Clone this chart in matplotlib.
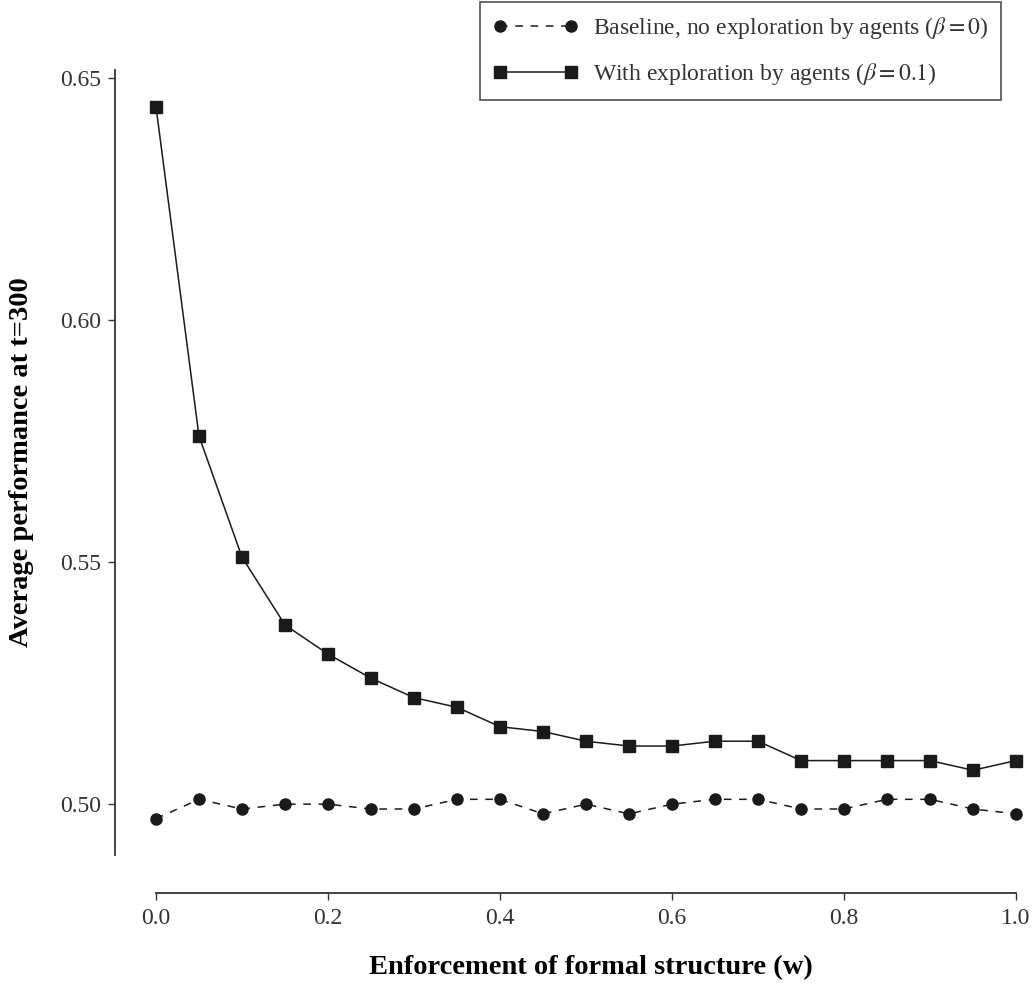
import matplotlib
matplotlib.use("Agg")
import matplotlib.pyplot as plt

plt.rcParams['font.family'] = ['Liberation Serif', 'DejaVu Serif']
plt.rcParams['mathtext.fontset'] = 'stix'

# enforcement levels w
w = [0.0, 0.05, 0.1, 0.15, 0.2, 0.25, 0.3, 0.35, 0.4, 0.45, 0.5,
     0.55, 0.6, 0.65, 0.7, 0.75, 0.8, 0.85, 0.9, 0.95, 1.0]

# average performance at t=300
baseline = [0.497, 0.501, 0.499, 0.500, 0.500, 0.499, 0.499, 0.501, 0.501, 0.498, 0.500,
            0.498, 0.500, 0.501, 0.501, 0.499, 0.499, 0.501, 0.501, 0.499, 0.498]
explore = [0.644, 0.576, 0.551, 0.537, 0.531, 0.526, 0.522, 0.520, 0.516, 0.515, 0.513,
           0.512, 0.512, 0.513, 0.513, 0.509, 0.509, 0.509, 0.509, 0.507, 0.509]

yticks = [0.50, 0.55, 0.60, 0.65]
xticks = [0.0, 0.2, 0.4, 0.6, 0.8, 1.0]

fig = plt.figure(figsize=(10.34, 9.83), dpi=100)
ax = fig.add_axes([0.1112, 0.1302, 0.8714, 0.7986])

line_col = '#1a1a1a'
ax.plot(w, baseline, color=line_col, lw=1.1, ls=(0, (5, 5)), marker='o', ms=8,
        clip_on=False, label=r'Baseline, no exploration by agents ($\beta = 0$)')
ax.plot(w, explore, color=line_col, lw=1.1, ls='-', marker='s', ms=8,
        clip_on=False, label=r'With exploration by agents ($\beta = 0.1$)')

ax.set_xlim(-0.0477, 1.0)
ax.set_ylim(0.4895, 0.6516)
ax.set_xticks(xticks)
ax.set_yticks(yticks)
ax.set_xticklabels(['%.1f' % t for t in xticks])
ax.set_yticklabels(['%.2f' % t for t in yticks])

for s in ['top', 'right']:
    ax.spines[s].set_visible(False)
ax.spines['bottom'].set_position(('outward', 27.4))
ax.spines['bottom'].set_bounds(0, 1)
for s in ['left', 'bottom']:
    ax.spines[s].set_color('#333333')
    ax.spines[s].set_linewidth(1.3)

ax.tick_params(axis='both', length=5, width=1, color='#333333',
               labelsize=17, labelcolor='#333333')
ax.tick_params(axis='x', pad=6)
ax.tick_params(axis='y', pad=5)

ax.set_xlabel('Enforcement of formal structure (w)', fontsize=20.5, fontweight='bold')
ax.set_ylabel('Average performance at t=300', fontsize=20.5, fontweight='bold')
ax.xaxis.label.set_va('center')
ax.xaxis.set_label_coords(0.528, -0.144)
ax.yaxis.set_label_coords(-0.090, 0.5)

leg = ax.legend(loc='upper right', bbox_to_anchor=(1001 / 1034, 1 - 2 / 983),
                bbox_transform=fig.transFigure, borderaxespad=0, fontsize=17,
                frameon=True, fancybox=False, numpoints=2, handlelength=3.6,
                handletextpad=0.6, labelspacing=0.85, borderpad=0.55)
leg.get_frame().set_edgecolor('#222222')
leg.get_frame().set_linewidth(1.2)
for t in leg.get_texts():
    t.set_color('#333333')

fig.savefig('out.png', dpi=100)
